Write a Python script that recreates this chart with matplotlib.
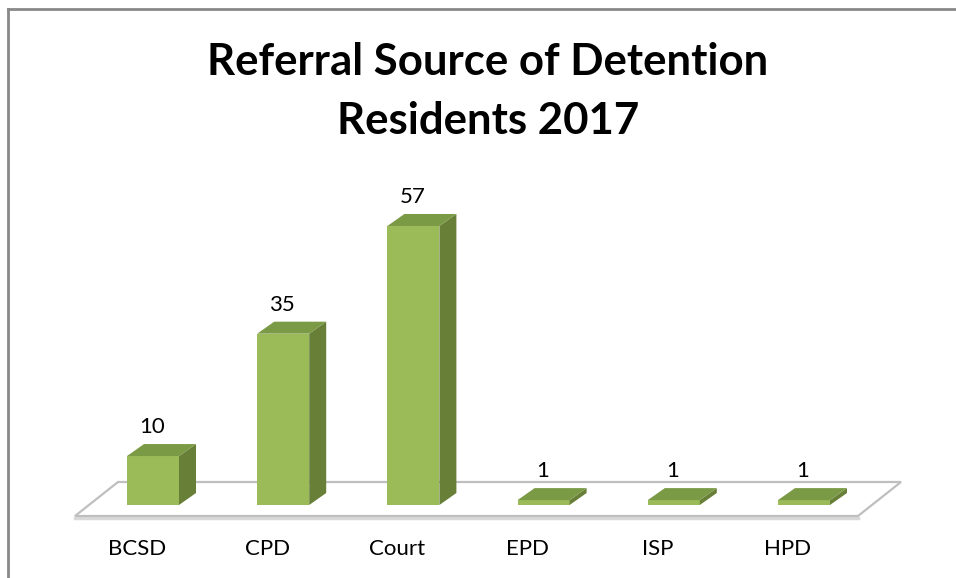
import matplotlib
matplotlib.use("Agg")
import matplotlib.pyplot as plt
from matplotlib.patches import Polygon, Rectangle
from matplotlib.lines import Line2D

plt.rcParams["font.family"] = ["Lato", "DejaVu Sans"]

# data
categories = ["BCSD", "CPD", "Court", "EPD", "ISP", "HPD"]
values = [10, 35, 57, 1, 1, 1]
title_lines = ["Referral Source of Detention", "Residents 2017"]

W, H = 956, 578
fig = plt.figure(figsize=(W / 100, H / 100), dpi=100)
ax = fig.add_axes([0, 0, 1, 1])

# pixel scale of the data axes
px_x = 130.2  # pixels per category
px_y = 4.895  # pixels per unit
x0_px, y0_px = 153, 505  # pixel of (0, 0), y from top
ax.set_xlim(-x0_px / px_x, (W - x0_px) / px_x)
ax.set_ylim(-(H - y0_px) / px_y, y0_px / px_y)
ax.axis("off")


def dx(p):
    return p / px_x


def dy(p):
    return p / px_y


front = "#9bbb59"
side = "#687f38"
top = "#7b9a45"

# floor
fl, fr, fy = dx(75 - x0_px), dx(858 - x0_px), dy(505 - 516)
ox, oy = dx(43), dy(34)
floor = Polygon([(fl, fy), (fr, fy), (fr + ox, fy + oy), (fl + ox, fy + oy)],
                closed=True, facecolor="white", edgecolor="#bfbfbf", lw=1.6, zorder=1)
ax.add_patch(floor)
ax.plot([fl, fr], [fy - dy(1.5), fy - dy(1.5)], color="#d9d9d9", lw=2.5, zorder=0.9)

# bars
w = dx(52)
bx, by = dx(17), dy(12)
for i, (cat, v) in enumerate(zip(categories, values)):
    l, r = i - w / 2, i + w / 2
    ax.add_patch(Rectangle((l, 0), w, v, facecolor=front, edgecolor="none", zorder=3))
    ax.add_patch(Polygon([(r, 0), (r + bx, by), (r + bx, v + by), (r, v)],
                         closed=True, facecolor=side, edgecolor="none", zorder=3))
    ax.add_patch(Polygon([(l, v), (l + bx, v + by), (r + bx, v + by), (r, v)],
                         closed=True, facecolor=top, edgecolor="none", zorder=3))
    ax.annotate(str(v), xy=(i, v + by), xytext=(-1, 17), textcoords="offset pixels",
                ha="center", va="center", fontsize=16, color="black", zorder=4)
    ax.annotate(cat, xy=(i, 0), xytext=(-16, -44), textcoords="offset pixels",
                ha="center", va="center", fontsize=16, color="black", zorder=4)

# title
ax.text(488 / W, 1 - 62 / H, title_lines[0], transform=ax.transAxes,
        ha="center", va="center", fontsize=31.5, fontweight="bold")
ax.text(488 / W, 1 - 121 / H, title_lines[1], transform=ax.transAxes,
        ha="center", va="center", fontsize=31.5, fontweight="bold")

# chart frame (left and top edges)
fig.add_artist(Line2D([7.5 / W, 7.5 / W], [0, 1 - 9 / H], color="#898989", lw=2,
                      transform=fig.transFigure))
fig.add_artist(Line2D([7.5 / W, 1], [1 - 9 / H, 1 - 9 / H], color="#898989", lw=2,
                      transform=fig.transFigure))

fig.savefig("out.png", dpi=100)
